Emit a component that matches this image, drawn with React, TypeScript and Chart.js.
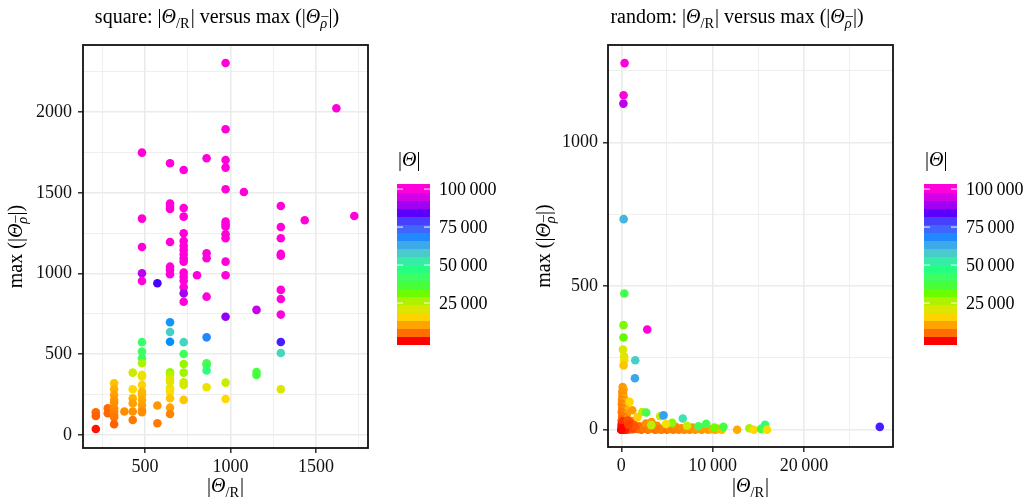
import React, { useEffect, useRef } from 'react';
import { Chart, registerables } from 'chart.js';
Chart.register(...registerables);

const FAMILY = '"Liberation Serif", "Times New Roman", serif';
const M = 100700;

// ---------- data: square ----------
const SQ_R = [
  212, 212, 212, 282, 282,
  319, 319, 319, 319, 319, 319, 319, 319, 319, 319,
  379,
  428, 428, 428, 428, 428, 428,
  482, 482, 482, 482, 482, 482, 482, 482, 482, 482, 482, 482, 482, 482, 482, 482, 482, 482,
  572, 572, 572,
  646, 646, 646, 646, 646, 646, 646, 646, 646, 646, 646, 646, 646, 646, 646, 646, 646, 646, 646, 646,
  726, 726, 726, 726, 726, 726, 726, 726, 726, 726, 726, 726, 726, 726, 726, 726, 726, 726, 726, 726, 726, 726, 726,
  804,
  860, 860, 860, 860, 860, 860, 860, 860, 860,
  971, 971, 971, 971, 971, 971, 971, 971, 971, 971, 971, 971, 971, 971, 971,
  1078,
  1152, 1152, 1152,
  1294, 1294, 1294, 1294, 1294, 1294, 1294, 1294, 1294, 1294, 1294,
  1434, 1619, 1724,
];
const SQ_RHO = [
  141, 118, 37, 165, 134,
  320, 283, 248, 217, 200, 165, 145, 124, 109, 66,
  145,
  386, 283, 227, 196, 145, 93,
  1750, 1341, 1165, 1002, 954, 575, 517, 475, 444, 372, 362, 310, 268, 248, 217, 186, 155, 141,
  940, 182, 72,
  1684, 1435, 1419, 1401, 1196, 1043, 1023, 996, 698, 638, 578, 388, 372, 345, 330, 289, 268, 227, 169, 130,
  1642, 1407, 1353, 1250, 1202, 1173, 1147, 1120, 1095, 1074, 1006, 981, 956, 915, 878, 826, 575, 502, 440, 386, 327, 310, 217,
  990,
  1715, 1126, 1095, 857, 605, 444, 434, 399, 296,
  2305, 1895, 1704, 1657, 1523, 1322, 1306, 1291, 1244, 1219, 1074, 990, 733, 324, 223,
  1506,
  775, 390, 372,
  1419, 1289, 1219, 1122, 1111, 899, 843, 746, 576, 508, 283,
  1331, 2025, 1357,
];
const SQ_THETA = [
  5700, 5000, 1000, 6000, 5500,
  14500, 12500, 11000, 10000, 9500, 9000, 8000, 7500, 7000, 5000,
  9000,
  24000, 17000, 13000, 11000, 9500, 7000,
  M, M, M, 93000, M, 44000, 43000, 42000, 27000, 19500, 20000, 16500, 13500, 13000, 12000, 11000, 10000, 9000,
  84000, 10000, 7000,
  M, M, M, M, M, M, M, M, 67000, 58000, 67500, 29000, 26000, 21000, 21000, 20000, 18000, 15000, 11000, 8000,
  M, M, M, M, M, M, M, M, M, M, M, M, M, M, 90000, M, 57000, 41000, 29000, 28000, 24000, 23000, 15000,
  M,
  M, M, M, M, 69000, 40000, 40000, 47000, 20000,
  M, M, M, M, M, M, M, M, M, M, M, M, 89000, 24000, 17000,
  M,
  94000, 38000, 38000,
  M, M, M, M, M, M, M, M, 83000, 57000, 22000,
  M, M, M,
];

// ---------- data: random ----------
const RND_R = [
  // orange vertical stack near 0
  150, 250, 100, 200, 120, 300, 80, 180, 500, 60, 220, 400, 100, 300, 700, 50, 260, 600, 90, 350,
  150, 500, 40, 250, 800, 120, 420, 60, 300, 700, 30, 180, 500, 1000, 80, 250, 0, 150, 400, 650, 900, 1300,
  // orange band along bottom
  1200, 1100, 1400, 1600, 1800, 2000, 2200, 2500, 2700, 2900, 3100, 3300, 3500, 3700, 3900, 4100, 4400, 4700,
  5000, 5200, 5400, 5700, 6000, 6300, 6600, 6900, 7200, 7500, 7800, 8100, 8400, 8800, 9100, 9500, 9900,
  10300, 10700, 11000,
  // coloured scatter
  900, 1780, 2300, 2730, 3280, 4260, 4620, 5570, 4900, 6730, 7200, 8450, 9290, 10200, 11180, 12680,
  14020, 14500, 15300, 15740, 15960, 28300,
  // upper stack
  310, 320, 250, 180, 240, 240, 330, 260, 230, 250, 360, 2840, 1530, 1490,
  // red cluster
  50, 300, 600, 900, 1200, 200, 700, 1500, 100, 400, 0, 800,
];
const RND_RHO = [
  149, 140, 132, 126, 118, 110, 104, 98, 94, 90, 84, 80, 76, 70, 66, 62, 56, 52, 48, 44,
  38, 36, 32, 28, 26, 22, 20, 16, 14, 12, 10, 8, 6, 5, 4, 2, 0, 0, 0, 0, 1, 2,
  68, 30, 18, 8, 3, 12, 0, 6, 22, 0, 4, 27, 9, 0, 14, 2, 0, 7,
  0, 15, 3, 0, 9, 0, 5, 0, 3, 0, 8, 0, 4, 0, 6, 0, 2,
  0, 3, 0,
  97, 44, 62, 60, 16, 47, 50, 24, 20, 39, 14, 12, 21, 8, 10, 0,
  5, 0, 3, 17, 0, 10,
  256, 242, 224, 279, 321, 364, 474, 733, 1135, 1164, 1276, 349, 242, 179,
  20, 15, 10, 25, 5, 30, 32, 12, 5, 0, 0, 18,
];
const RND_THETA = [
  10000, 11000, 9500, 10500, 9000, 11500, 8500, 10000, 13000, 8000, 9000, 12000, 7500, 9000, 13500, 7000, 8000, 11000, 6500, 7500,
  6000, 9000, 5000, 6000, 8000, 4500, 5500, 3500, 5000, 6500, 2500, 3000, 4500, 6000, 1500, 2000, 800, 1200, 2500, 3500, 4000, 5000,
  10500, 8500, 6000, 5000, 5500, 6500, 6000, 7000, 9000, 6500, 7500, 10000, 7000, 6500, 8500, 7000, 7500, 8000,
  7000, 9500, 8000, 7500, 8500, 8000, 9000, 8500, 9500, 9000, 10000, 9500, 10500, 10000, 11000, 10500, 12000,
  11500, 13000, 14000,
  17000, 16000, 25000, 40000, 26000, 25000, 65000, 30000, 19000, 55000, 24000, 42000, 40000, 32000, 38000, 12000,
  27000, 17000, 38000, 45000, 18000, 83000,
  21000, 20000, 15000, 22000, 33000, 31000, 40000, 62000, 93000, M, M, M, 58000, 64000,
  1000, 1500, 2000, 2500, 3000, 1800, 3500, 4000, 500, 1200, 700, 2800,
];

// ---------- axes ----------
const SQ_X_RANGE = [137, 1804];
const SQ_Y_RANGE = [-81, 2417];
const SQ_X_TICKS = [250, 500, 750, 1000, 1250, 1500, 1750];
const SQ_Y_TICKS = [0, 250, 500, 750, 1000, 1250, 1500, 1750, 2000, 2250];
const RND_X_RANGE = [-1457, 29748];
const RND_Y_RANGE = [-60, 1339];
const RND_X_TICKS = [0, 5000, 10000, 15000, 20000, 25000];
const RND_Y_TICKS = [0, 250, 500, 750, 1000, 1250];
const LEGEND_BREAKS = [25000, 50000, 75000, 100000];
const THETA_LIMITS = [700, 100700];
const RAINBOW7 = ['#FF0000', '#FFDB00', '#49FF00', '#00FF92', '#0092FF', '#4900FF', '#FF00DB'];

// ---------- colour (Lab interpolation) ----------
function hexRgb(h: string) {
  return [parseInt(h.slice(1, 3), 16), parseInt(h.slice(3, 5), 16), parseInt(h.slice(5, 7), 16)];
}
function toLin(c: number) { c /= 255; return c <= 0.04045 ? c / 12.92 : Math.pow((c + 0.055) / 1.055, 2.4); }
function fromLin(c: number) {
  const v = c <= 0.0031308 ? 12.92 * c : 1.055 * Math.pow(c, 1 / 2.4) - 0.055;
  return Math.round(Math.max(0, Math.min(1, v)) * 255);
}
function rgbLab(rgb: number[]) {
  const [r, g, b] = rgb.map(toLin);
  const X = (0.4124 * r + 0.3576 * g + 0.1805 * b) / 0.95047;
  const Y = 0.2126 * r + 0.7152 * g + 0.0722 * b;
  const Z = (0.0193 * r + 0.1192 * g + 0.9505 * b) / 1.08883;
  const f = (t: number) => (t > 0.008856 ? Math.cbrt(t) : 7.787 * t + 16 / 116);
  const fx = f(X), fy = f(Y), fz = f(Z);
  return [116 * fy - 16, 500 * (fx - fy), 200 * (fy - fz)];
}
function labRgb(lab: number[]) {
  const fy = (lab[0] + 16) / 116, fx = fy + lab[1] / 500, fz = fy - lab[2] / 200;
  const fi = (t: number) => (t * t * t > 0.008856 ? t * t * t : (t - 16 / 116) / 7.787);
  const X = fi(fx) * 0.95047, Y = fi(fy), Z = fi(fz) * 1.08883;
  const r = 3.2406 * X - 1.5372 * Y - 0.4986 * Z;
  const g = -0.9689 * X + 1.8758 * Y + 0.0415 * Z;
  const b = 0.0557 * X - 0.204 * Y + 1.057 * Z;
  return `rgb(${fromLin(r)},${fromLin(g)},${fromLin(b)})`;
}
const STOP_LAB = RAINBOW7.map((h) => rgbLab(hexRgb(h)));
function colorAt(v: number) {
  let t = (v - THETA_LIMITS[0]) / (THETA_LIMITS[1] - THETA_LIMITS[0]);
  t = Math.max(0, Math.min(1, t));
  const s = t * (STOP_LAB.length - 1);
  const i = Math.min(STOP_LAB.length - 2, Math.floor(s));
  const f = s - i;
  const a = STOP_LAB[i], b = STOP_LAB[i + 1];
  return labRgb([a[0] + (b[0] - a[0]) * f, a[1] + (b[1] - a[1]) * f, a[2] + (b[2] - a[2]) * f]);
}

// ---------- rich text ----------
type Seg = { t?: string; it?: boolean; sub?: string; subIt?: boolean; sup?: string };
function fnt(size: number, it?: boolean) { return `${it ? 'italic ' : ''}${size}px ${FAMILY}`; }
function segW(ctx: CanvasRenderingContext2D, s: Seg, size: number) {
  if (s.t !== undefined) { ctx.font = fnt(size, s.it); return ctx.measureText(s.t).width; }
  const ss = size * 0.72;
  let w = 0;
  if (s.sub) { ctx.font = fnt(ss, s.subIt); w = Math.max(w, ctx.measureText(s.sub).width); }
  if (s.sup) { ctx.font = fnt(ss); w = Math.max(w, ctx.measureText(s.sup).width); }
  return w + 1;
}
function drawRich(ctx: CanvasRenderingContext2D, segs: Seg[], x: number, y: number, size: number, align: 'center' | 'left') {
  const ws = segs.map((s) => segW(ctx, s, size));
  const total = ws.reduce((a, b) => a + b, 0);
  let cx = align === 'center' ? x - total / 2 : x;
  ctx.textAlign = 'left';
  ctx.textBaseline = 'alphabetic';
  ctx.fillStyle = '#000';
  segs.forEach((s, i) => {
    if (s.t !== undefined) {
      ctx.font = fnt(size, s.it);
      ctx.fillText(s.t, cx, y);
    } else {
      const ss = size * 0.72;
      if (s.sub) { ctx.font = fnt(ss, s.subIt); ctx.fillText(s.sub, cx, y + size * 0.26); }
      if (s.sup) {
        ctx.font = fnt(ss);
        const sw = ctx.measureText(s.sup).width;
        ctx.fillText(s.sup, cx + (ws[i] - 1 - sw) / 2 + 1, y - size * 0.14);
      }
    }
    cx += ws[i];
  });
}

const R_SEGS: Seg[] = [{ t: '|' }, { t: 'Θ', it: true }, { sub: '/R' }, { t: '|' }];
const RHO_SEGS: Seg[] = [{ t: 'max (|' }, { t: 'Θ', it: true }, { sub: 'ρ', subIt: true, sup: '–' }, { t: '|)' }];
const THETA_SEGS: Seg[] = [{ t: '|' }, { t: 'Θ', it: true }, { t: '|' }];
function titleSegs(name: string): Seg[] {
  return [{ t: name + ': |' }, { t: 'Θ', it: true }, { sub: '/R' }, { t: '| versus ' }, ...RHO_SEGS];
}

function fmtThin(v: number) {
  if (Math.abs(v) < 10000) return String(v);
  const s = String(v);
  return s.slice(0, s.length - 3) + '\u2009' + s.slice(s.length - 3);
}

type PanelCfg = {
  title: string; titleX: number; yTitleX: number;
  xs: number[]; ys: number[]; th: number[];
  xRange: number[]; yRange: number[]; xTicks: number[]; yTicks: number[];
  xMajor: number; yMajor: number; xFmt: (v: number) => string; yFmt: (v: number) => string;
  yAxisW: number; xAxisH: number; padRight: number; yPad: number;
  barX: number;
};

function makeChart(canvas: HTMLCanvasElement, p: PanelCfg) {
  const isMaj = (v: number, m: number) => Math.abs(v % m) < 1e-6;
  const panelPlugin = {
    id: 'panelDeco',
    afterDatasetsDraw(chart: any) {
      const { ctx, chartArea: ca } = chart;
      ctx.save();
      ctx.strokeStyle = '#111';
      ctx.lineWidth = 1.8;
      ctx.strokeRect(ca.left, ca.top, ca.right - ca.left, ca.bottom - ca.top);
      ctx.restore();
    },
    afterDraw(chart: any) {
      const { ctx, chartArea: ca } = chart;
      ctx.save();
      drawRich(ctx, titleSegs(p.title), p.titleX, 23, 20, 'center');
      drawRich(ctx, R_SEGS, (ca.left + ca.right) / 2, 492, 20, 'center');
      ctx.save();
      ctx.translate(p.yTitleX, (ca.top + ca.bottom) / 2);
      ctx.rotate(-Math.PI / 2);
      drawRich(ctx, RHO_SEGS, 0, 0, 20, 'center');
      ctx.restore();
      // colour bar legend
      const bx = p.barX, bw = 33, btop = 184, bh = 160, nb = 20;
      drawRich(ctx, THETA_SEGS, bx + 1, 166, 20, 'left');
      for (let k = 0; k < nb; k++) {
        const v = THETA_LIMITS[0] + (k / (nb - 1)) * (THETA_LIMITS[1] - THETA_LIMITS[0]);
        ctx.fillStyle = colorAt(v);
        const y0 = btop + bh - (k + 1) * (bh / nb);
        ctx.fillRect(bx, Math.floor(y0), bw, Math.ceil(bh / nb) + 1);
      }
      ctx.fillStyle = '#000';
      ctx.font = fnt(18);
      ctx.textAlign = 'left';
      ctx.textBaseline = 'middle';
      LEGEND_BREAKS.forEach((b) => {
        const r = (b - THETA_LIMITS[0]) / (THETA_LIMITS[1] - THETA_LIMITS[0]);
        const y = btop + bh - (bh / nb) * (0.5 + r * (nb - 1));
        ctx.strokeStyle = '#fff';
        ctx.lineWidth = 1;
        ctx.beginPath();
        ctx.moveTo(bx, y); ctx.lineTo(bx + 6, y);
        ctx.moveTo(bx + bw - 6, y); ctx.lineTo(bx + bw, y);
        ctx.stroke();
        ctx.fillStyle = '#000';
        ctx.fillText(fmtThin(b), bx + bw + 9, y + 1);
      });
      ctx.restore();
    },
  };

  const axis = (range: number[], ticks: number[], major: number, fmt: (v: number) => string, isX: boolean, size: number, pad: number) => ({
    type: 'linear',
    min: range[0],
    max: range[1],
    afterBuildTicks: (s: any) => { s.ticks = ticks.map((v) => ({ value: v })); },
    afterFit: (s: any) => { if (isX) s.height = size; else s.width = size; },
    border: { display: false },
    grid: {
      color: '#EBEBEB',
      lineWidth: (c: any) => (c.tick && isMaj(c.tick.value, major) ? 1.6 : 0.8),
      tickColor: (c: any) => (c.tick && isMaj(c.tick.value, major) ? '#222' : 'rgba(0,0,0,0)'),
      tickLength: 5,
      tickWidth: 1.4,
      drawTicks: true,
    },
    ticks: {
      autoSkip: false,
      maxRotation: 0,
      padding: pad,
      color: '#111',
      font: { family: FAMILY, size: 18 },
      callback: (v: any) => (isMaj(Number(v), major) ? fmt(Number(v)) : ''),
    },
  });

  return new Chart(canvas, {
    type: 'scatter',
    data: {
      datasets: [{
        data: p.xs.map((x, i) => ({ x, y: p.ys[i] })),
        pointRadius: 4.3,
        pointHoverRadius: 4.3,
        pointBorderWidth: 0,
        pointBackgroundColor: p.th.map(colorAt),
        pointBorderColor: 'rgba(0,0,0,0)',
      }],
    },
    options: {
      animation: false,
      responsive: false,
      maintainAspectRatio: false,
      events: [],
      layout: { padding: { left: 0, top: 45, right: p.padRight, bottom: 0 } },
      plugins: { legend: { display: false }, tooltip: { enabled: false }, title: { display: false } },
      scales: {
        x: axis(p.xRange, p.xTicks, p.xMajor, p.xFmt, true, p.xAxisH, 3),
        y: axis(p.yRange, p.yTicks, p.yMajor, p.yFmt, false, p.yAxisW, p.yPad),
      },
    } as any,
    plugins: [panelPlugin],
  } as any);
}

export default function App() {
  const leftRef = useRef<HTMLCanvasElement>(null);
  const rightRef = useRef<HTMLCanvasElement>(null);
  useEffect(() => {
    const c1 = makeChart(leftRef.current!, {
      title: 'square', titleX: 217, yTitleX: 22,
      xs: SQ_R, ys: SQ_RHO, th: SQ_THETA,
      xRange: SQ_X_RANGE, yRange: SQ_Y_RANGE, xTicks: SQ_X_TICKS, yTicks: SQ_Y_TICKS,
      xMajor: 500, yMajor: 500, xFmt: (v) => String(v), yFmt: (v) => String(v),
      yAxisW: 83, xAxisH: 56, padRight: 514 - 368, yPad: 6, barX: 397,
    });
    const c2 = makeChart(rightRef.current!, {
      title: 'random', titleX: 737 - 514, yTitleX: 550 - 514,
      xs: RND_R, ys: RND_RHO, th: RND_THETA,
      xRange: RND_X_RANGE, yRange: RND_Y_RANGE, xTicks: RND_X_TICKS, yTicks: RND_Y_TICKS,
      xMajor: 10000, yMajor: 500, xFmt: fmtThin, yFmt: (v) => String(v),
      yAxisW: 608 - 514, xAxisH: 57, padRight: 515 - (893 - 514), yPad: 5, barX: 924 - 514,
    });
    return () => { c1.destroy(); c2.destroy(); };
  }, []);
  return (
    <div style={{ position: 'absolute', left: 0, top: 0, width: 1029, height: 504, background: '#fff' }}>
      <canvas ref={leftRef} width={514} height={504} style={{ position: 'absolute', left: 0, top: 0, width: 514, height: 504 }} />
      <canvas ref={rightRef} width={515} height={504} style={{ position: 'absolute', left: 514, top: 0, width: 515, height: 504 }} />
    </div>
  );
}
